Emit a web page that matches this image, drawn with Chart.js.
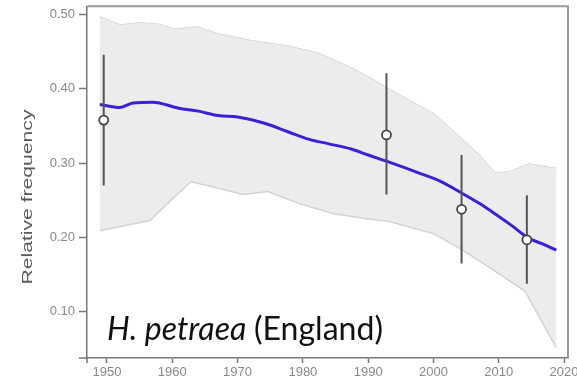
<!DOCTYPE html>
<html>
<head>
<meta charset="utf-8">
<script src="https://cdn.jsdelivr.net/npm/chart.js@4.4.0/dist/chart.umd.min.js"></script>
<style>
  html, body { margin: 0; padding: 0; background: #fff; }
  #wrap { width: 577px; height: 383px; position: relative; }
</style>
</head>
<body>
<div id="wrap"><canvas id="myChart"></canvas></div>
<script>
// smoothed trend (blue line)
const lineYears = [1948.9, 1952, 1954, 1957, 1961, 1964, 1967, 1970, 1974, 1977.5, 1981, 1984, 1987.4, 1990, 1993, 1997.7, 2001, 2004.3, 2007, 2009.4, 2012, 2014.6, 2016.5, 2018.8];
const lineValues = [0.379, 0.375, 0.381, 0.382, 0.374, 0.370, 0.364, 0.362, 0.354, 0.343, 0.332, 0.326, 0.319, 0.311, 0.302, 0.287, 0.276, 0.260, 0.246, 0.232, 0.216, 0.199, 0.192, 0.183];

// confidence band
const upperYears = [1948.9, 1952, 1955, 1958, 1960.4, 1963.8, 1966.9, 1972, 1978, 1982.3, 1987.4, 1990.4, 1993.1, 2000.1, 2006.9, 2009.4, 2011.5, 2014.6, 2018.8];
const upperValues = [0.497, 0.486, 0.489, 0.487, 0.480, 0.483, 0.474, 0.465, 0.457, 0.448, 0.428, 0.414, 0.400, 0.366, 0.312, 0.287, 0.288, 0.299, 0.293];
const lowerYears = [1948.9, 1956.6, 1960, 1962.9, 1965.8, 1970.9, 1974.6, 1979.7, 1984.7, 1990, 1993.1, 2000.1, 2004.3, 2009.4, 2014, 2018.8];
const lowerValues = [0.209, 0.223, 0.252, 0.275, 0.269, 0.258, 0.262, 0.245, 0.232, 0.225, 0.222, 0.205, 0.184, 0.155, 0.128, 0.052];

// observed samples with error bars
const obsYears = [1949.5, 1992.8, 2004.3, 2014.3];
const obsValues = [0.358, 0.338, 0.238, 0.197];
const obsLow = [0.270, 0.258, 0.165, 0.138];
const obsHigh = [0.446, 0.421, 0.311, 0.257];

const yTicks = [0.1, 0.2, 0.3, 0.4, 0.5];
const xTicks = [1950, 1960, 1970, 1980, 1990, 2000, 2010, 2020];

const toPts = (xs, ys) => xs.map((x, i) => ({ x: x, y: ys[i] }));

const errorBarSets = obsYears.map((yr, i) => ({
  data: [{ x: yr, y: obsLow[i] }, { x: yr, y: obsHigh[i] }],
  borderColor: '#555',
  borderWidth: 2,
  pointRadius: 0,
  fill: false,
  order: 3
}));

const frame = {
  id: 'frame',
  afterDraw(chart) {
    const { ctx, chartArea: a } = chart;
    ctx.save();
    ctx.strokeStyle = '#999';
    ctx.lineWidth = 2;
    ctx.beginPath();
    ctx.moveTo(a.left, a.top);
    ctx.lineTo(a.right, a.top);
    ctx.lineTo(a.right, a.bottom);
    ctx.stroke();
    // axis overhang at the corner
    ctx.strokeStyle = '#777';
    ctx.lineWidth = 1.5;
    ctx.beginPath();
    ctx.moveTo(a.left - 8, a.bottom);
    ctx.lineTo(a.left, a.bottom);
    ctx.moveTo(a.left, a.bottom);
    ctx.lineTo(a.left, a.bottom + 5);
    ctx.stroke();

    // y axis title, stretched along its length like the source
    ctx.fillStyle = '#5a5a5a';
    ctx.font = '14px "Liberation Sans", Arial, sans-serif';
    ctx.textAlign = 'center';
    ctx.textBaseline = 'middle';
    const title = 'Relative frequency';
    const w = ctx.measureText(title).width;
    ctx.translate(28, 197);
    ctx.rotate(-Math.PI / 2);
    ctx.scale(175 / w, 1.05);
    ctx.fillText(title, 0, 0);
    ctx.restore();

    // species label
    ctx.save();
    ctx.fillStyle = '#111';
    ctx.textBaseline = 'alphabetic';
    const fam = 'Lato, "Open Sans", sans-serif';
    ctx.font = 'italic 100px ' + fam;
    const w1 = ctx.measureText('H. petraea ').width;
    ctx.font = '100px ' + fam;
    const w2 = ctx.measureText('(England)').width;
    const size = 276 / (w1 + w2) * 100;
    ctx.font = 'italic ' + size + 'px ' + fam;
    ctx.fillText('H. petraea ', 107, 340);
    ctx.font = size + 'px ' + fam;
    ctx.fillText('(England)', 107 + w1 * size / 100, 340);
    ctx.restore();
  }
};

const ctx = document.getElementById('myChart');

new Chart(ctx, {
  type: 'line',
  data: {
    datasets: [
      {
        data: toPts(upperYears, upperValues),
        borderColor: '#d3d3d3',
        borderWidth: 1.5,
        pointRadius: 0,
        fill: false,
        order: 10
      },
      {
        data: toPts(lowerYears, lowerValues),
        borderColor: '#d3d3d3',
        backgroundColor: '#ececec',
        borderWidth: 1.5,
        pointRadius: 0,
        fill: '-1',
        order: 9
      },
      {
        data: toPts(lineYears, lineValues),
        borderColor: '#3a20d6',
        borderWidth: 3,
        pointRadius: 0,
        cubicInterpolationMode: 'monotone',
        fill: false,
        order: 5
      },
      ...errorBarSets,
      {
        data: toPts(obsYears, obsValues),
        showLine: false,
        pointRadius: 4.5,
        pointBackgroundColor: '#fff',
        pointBorderColor: '#444',
        pointBorderWidth: 1.8,
        order: 1
      }
    ]
  },
  options: {
    responsive: true,
    maintainAspectRatio: false,
    animation: false,
    layout: { padding: { top: 5, right: 9, left: 0, bottom: 0 } },
    plugins: {
      legend: { display: false },
      tooltip: { enabled: false }
    },
    scales: {
      x: {
        type: 'linear',
        min: 1946.94,
        max: 2020.6,
        afterBuildTicks: (scale) => { scale.ticks = xTicks.map(v => ({ value: v })); },
        afterFit: (scale) => { scale.height = 25; scale.paddingLeft = 0; scale.paddingRight = 0; },
        grid: { drawOnChartArea: false, tickLength: 5, color: '#777', tickWidth: 1.5 },
        border: { color: '#777', width: 1.5 },
        ticks: {
          color: '#888',
          padding: 2,
          maxRotation: 0,
          font: { family: '"Liberation Sans", Arial, sans-serif', size: 13 },
          callback: (v) => String(v)
        }
      },
      y: {
        min: 0.038,
        max: 0.511,
        afterBuildTicks: (scale) => { scale.ticks = yTicks.map(v => ({ value: v })); },
        afterFit: (scale) => { scale.width = 87; scale.paddingTop = 0; scale.paddingBottom = 0; },
        grid: { drawOnChartArea: false, tickLength: 8, color: '#777', tickWidth: 1.5 },
        border: { color: '#777', width: 1.5 },
        ticks: {
          color: '#888',
          padding: 4,
          font: { family: '"Liberation Sans", Arial, sans-serif', size: 13 },
          callback: (v) => v.toFixed(2)
        }
      }
    }
  },
  plugins: [frame]
});
</script>
</body>
</html>
